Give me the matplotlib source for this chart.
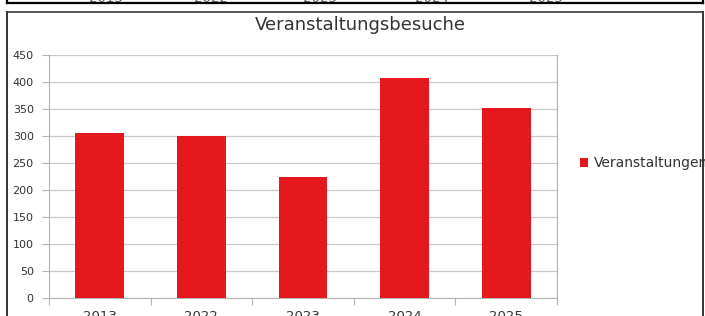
import matplotlib
matplotlib.use("Agg")
import matplotlib.pyplot as plt
from matplotlib.lines import Line2D
import numpy as np

categories = ["2013", "2022", "2023", "2024", "2025"]
values = [305, 300, 224, 407, 351]
series_name = "Veranstaltungen"
title = "Veranstaltungsbesuche"
yticks = [0, 50, 100, 150, 200, 250, 300, 350, 400, 450]

plt.rcParams['font.family'] = ['DejaVu Sans']

W, H = 705, 316
fig = plt.figure(figsize=(W / 100, H / 100), dpi=100)
fig.patch.set_facecolor('white')

def fx(px):
    return px / W

def fy(py):
    return 1 - py / H

# frame of the chart above (cut off)
fig.add_artist(Line2D([fx(7), fx(703)], [fy(3), fy(3)], color='black', lw=1.6))
fig.add_artist(Line2D([fx(7), fx(7)], [fy(0), fy(3)], color='black', lw=1.6))
fig.add_artist(Line2D([fx(703), fx(703)], [fy(0), fy(3)], color='black', lw=1.6))
# cut-off tick labels of the chart above
for lab, px in zip(categories, [106, 211, 320, 432, 546]):
    fig.text(fx(px), fy(1.5), lab, ha='center', va='baseline', fontsize=9.5, color='#555555')

# frame of this chart
fig.add_artist(Line2D([fx(7), fx(703)], [fy(12), fy(12)], color='#555555', lw=1.4))
fig.add_artist(Line2D([fx(7), fx(7)], [fy(12), fy(316)], color='#333333', lw=1.4))
fig.add_artist(Line2D([fx(703), fx(703)], [fy(12), fy(316)], color='#333333', lw=1.4))

left, right, top, bottom = 49, 557, 55, 298
ax = fig.add_axes([fx(left), fy(bottom), fx(right) - fx(left), fy(top) - fy(bottom)])
x = np.arange(len(categories))
ax.bar(x, values, width=0.48, color='#e5191d', zorder=3, label=series_name)
ax.set_xlim(-0.5, len(categories) - 0.5)
ax.set_ylim(0, 450)
ax.set_yticks(yticks)
ax.set_yticklabels([str(t) for t in yticks], fontsize=8, color='#333333')
ax.set_xticks(x)
ax.set_xticklabels(categories, fontsize=9.5, color='#333333')
ax.set_xticks(np.arange(len(categories) + 1) - 0.5, minor=True)
ax.tick_params(axis='x', which='major', length=0, pad=9)
ax.tick_params(axis='x', which='minor', length=5, color='#b3b3b3', width=0.8)
ax.tick_params(axis='y', length=5, color='#b3b3b3', width=0.8, pad=6)
ax.grid(axis='y', color='#c8c8c8', lw=0.9, zorder=0)
for s in ['left', 'bottom', 'right']:
    ax.spines[s].set_color('#b3b3b3')
    ax.spines[s].set_linewidth(0.8)
ax.spines['top'].set_visible(False)

fig.text(fx(360), fy(25), title, ha='center', va='center', fontsize=13, color='#333333')

leg = ax.legend(loc='center left', bbox_to_anchor=(fx(573), fy(163)),
                bbox_transform=fig.transFigure, frameon=False, fontsize=10,
                handlelength=0.6, handleheight=0.6, handletextpad=0.4, borderpad=0)
for t in leg.get_texts():
    t.set_color('#333333')

fig.savefig("out.png", dpi=100, facecolor='white')
